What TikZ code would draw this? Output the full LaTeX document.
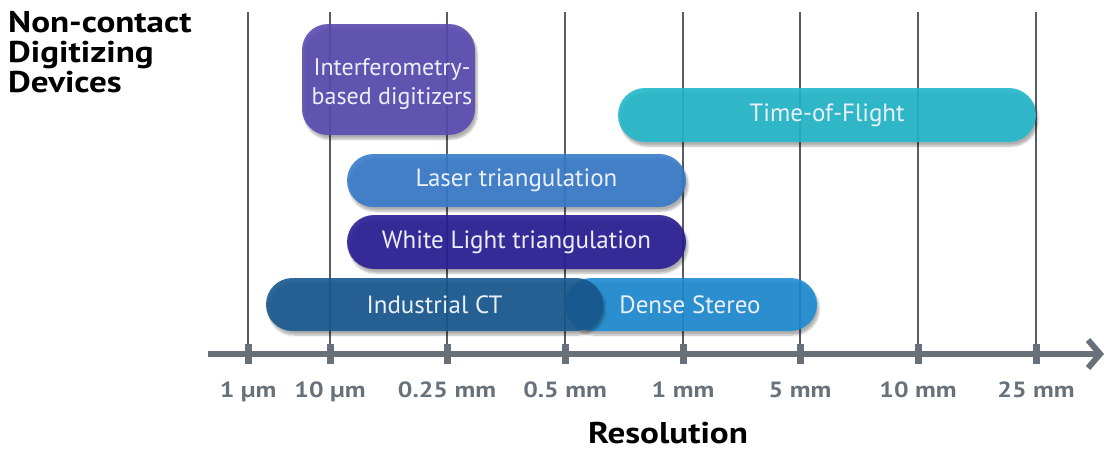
\documentclass[tikz,border=0pt]{standalone}
\usepackage{fontspec}
\setmainfont{PT Sans}
\newfontfamily\widefont[FakeStretch=1.17]{PT Sans}
\usetikzlibrary{arrows.meta,shadows.blur}
\definecolor{gridc}{HTML}{565D66}
\definecolor{axisc}{HTML}{68717A}
\definecolor{interc}{HTML}{5A4BB0}
\definecolor{tofc}{HTML}{22B8CA}
\definecolor{laserc}{HTML}{377BCA}
\definecolor{whitec}{HTML}{2A1E94}
\definecolor{ctc}{HTML}{17588F}
\definecolor{densec}{HTML}{1E8BD2}
\definecolor{bartext}{HTML}{EAF0FB}
\tikzset{
  bar/.style={rectangle, inner sep=0pt, fill opacity=0.9, text opacity=1,
    text=bartext, font=\fontsize{25}{28}\selectfont, align=center,
    blur shadow={shadow xshift=2pt, shadow yshift=-4pt, shadow blur steps=8, shadow opacity=35}},
  bartxt/.style={text=bartext, inner sep=0pt, align=center},
  gridline/.style={draw=gridc, line width=1.6pt},
  tick/.style={fill=axisc},
  axislabel/.style={text=axisc, font=\widefont\bfseries\fontsize{22}{24}\selectfont, anchor=base, inner sep=0pt},
}
\begin{document}
\begin{tikzpicture}[x=1pt,y=-1pt]
\useasboundingbox (0,0) rectangle (1107,451);
% title
\node[anchor=north west, align=left, font=\widefont\bfseries\fontsize{30}{30}\selectfont, inner sep=0pt] (title) at (8,11) {Non-contact\\Digitizing\\Devices};
% grid lines
\foreach \i/\x in {1/248,2/330,3/447,4/565,5/683,6/800,7/918,8/1036}{
  \coordinate (gt\i) at (\x,12);
  \coordinate (gb\i) at (\x,354);
  \draw[gridline] (gt\i) -- (gb\i);
}
% bars
\node[bar, fill=tofc, minimum width=418pt, minimum height=54pt, rounded corners=27pt] (tof) at (827,115) {Time-of-Flight};
\node[bar, fill=interc, minimum width=173pt, minimum height=111pt, rounded corners=26pt] (inter) at (388.5,79.5) {};
\node[bartxt, font=\fontsize{24}{29}\selectfont] (intertext) at (392,84) {Interferometry-\\based digitizers};
\node[bar, fill=laserc, minimum width=339pt, minimum height=53pt, rounded corners=26.5pt] (laser) at (516.5,180.5) {Laser triangulation};
\node[bar, fill=whitec, minimum width=339pt, minimum height=54pt, rounded corners=27pt] (white) at (516.5,242) {White Light triangulation};
\node[bar, fill=densec, minimum width=252pt, minimum height=53pt, rounded corners=26.5pt] (dense) at (691,304.5) {};
\node[bar, fill=ctc, minimum width=337pt, minimum height=53pt, rounded corners=26.5pt] (ct) at (434.5,304.5) {Industrial CT};
\node[bartxt, font=\fontsize{25}{28}\selectfont] (densetext) at (690,304.5) {Dense Stereo};
% axis
\coordinate (axstart) at (208,354);
\coordinate (axend) at (1104,354);
\draw[draw=axisc, line width=6pt, -{Straight Barb[length=12pt,width=28pt,line width=6pt]}] (axstart) -- (axend);
\foreach \i in {1,...,8}{
  \fill[tick] ([xshift=-3.5pt,yshift=-10pt]gb\i) rectangle ([xshift=3.5pt,yshift=10pt]gb\i);
}
% axis labels
\foreach \i/\t in {1/1 µm,2/10 µm,3/0.25 mm,4/0.5 mm,5/1 mm,6/5 mm,7/10 mm,8/25 mm}{
  \node[axislabel] (lab\i) at ([yshift=-43pt]gb\i) {\t};
}
\node[font=\widefont\bfseries\fontsize{30}{30}\selectfont, anchor=base, inner sep=0pt] (res) at (668,443) {Resolution};
\end{tikzpicture}
\end{document}
